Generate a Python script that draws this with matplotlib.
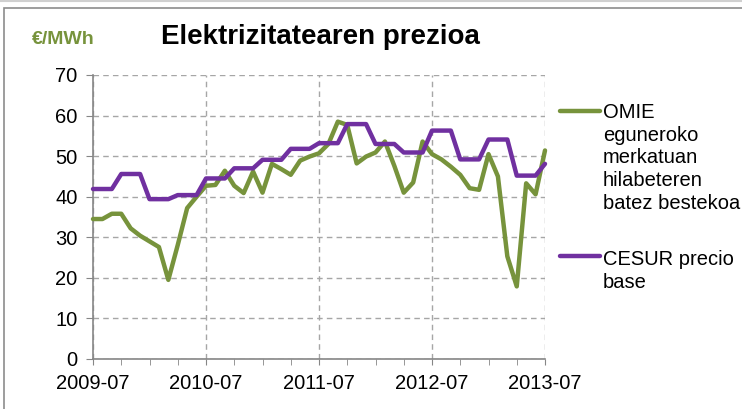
import numpy as np
import matplotlib.pyplot as plt
from matplotlib.lines import Line2D
from matplotlib.patches import Rectangle

plt.rcParams['font.family'] = ['Liberation Sans', 'DejaVu Sans']

# monthly values, 2009-07 .. 2013-07
omie = [34.5, 34.5, 35.8, 35.8, 32.2, 30.4,
        29.0, 27.6, 19.5, 28.1, 37.2, 40.0, 42.7, 42.9, 46.4, 42.7, 40.9, 46.2,
        41.0, 48.1, 46.8, 45.4, 48.9, 49.9, 50.7, 53.0, 58.5, 57.7, 48.2, 49.9,
        50.9, 53.6, 47.6, 41.0, 43.5, 53.6, 50.5, 49.2, 47.4, 45.4, 42.1, 41.7,
        50.5, 45.0, 25.3, 17.9, 43.3, 40.6, 51.4]
cesur = [41.9, 41.9, 41.9, 45.6, 45.6, 45.6,
         39.4, 39.4, 39.4, 40.4, 40.4, 40.4, 44.5, 44.5, 44.5, 47.0, 47.0, 47.0,
         49.1, 49.1, 49.1, 51.8, 51.8, 51.8, 53.2, 53.2, 53.2, 57.9, 57.9, 57.9,
         53.0, 53.0, 53.0, 50.9, 50.9, 50.9, 56.3, 56.3, 56.3, 49.2, 49.2, 49.2,
         54.1, 54.1, 54.1, 45.2, 45.2, 45.2, 48.1]
year_labels = ['2009-07', '2010-07', '2011-07', '2012-07', '2013-07']
omie_label = ['OMIE', 'eguneroko', 'merkatuan', 'hilabeteren', 'batez bestekoa']
cesur_label = ['CESUR precio', 'base']

green = '#77933C'
purple = '#7030A0'
gray = '#868686'

W, H = 742, 409
fig = plt.figure(figsize=(W / 100, H / 100), dpi=100)
ax = fig.add_axes([93 / W, 1 - 359 / H, 452 / W, 284 / H])

x = np.arange(len(omie))
ax.plot(x, omie, color=green, lw=3.2, clip_on=False, zorder=3,
        solid_joinstyle='round', solid_capstyle='round')
ax.plot(x, cesur, color=purple, lw=3.2, clip_on=False, zorder=4,
        solid_joinstyle='round', solid_capstyle='round')

ax.set_xlim(0, len(omie) - 1)
ax.set_ylim(0, 70)
ax.set_xticks(np.arange(0, len(omie), 12))
ax.set_xticklabels(year_labels)
ax.set_xticks(np.arange(0, len(omie), 3), minor=True)
ax.set_yticks(np.arange(0, 71, 10))

ax.grid(True, color='#A6A6A6', ls=(0, (4, 3)), lw=1)
for s in ['top', 'right']:
    ax.spines[s].set_visible(False)
for s in ['left', 'bottom']:
    ax.spines[s].set_color(gray)
    ax.spines[s].set_linewidth(1.2)
ax.tick_params(axis='x', which='both', length=4, color=gray, labelsize=14.5, pad=7)
ax.tick_params(axis='y', length=5, color=gray, labelsize=14.5, pad=6)

# title and unit
fig.text(32 / W, 1 - 44.3 / H, '€/MWh', color=green, fontsize=14, fontweight='bold',
         va='baseline')
fig.text(161 / W, 1 - 44.3 / H, 'Elektrizitatearen prezioa', fontsize=20,
         fontweight='bold', va='baseline')

# legend drawn by hand
def legend_entry(y_line, y_base, color, lines):
    fig.add_artist(Line2D([560 / W, 600 / W], [1 - y_line / H] * 2,
                          color=color, lw=3.2, solid_capstyle='round',
                          transform=fig.transFigure))
    for i, t in enumerate(lines):
        fig.text(603 / W, 1 - (y_base + i * 22.9) / H, t, fontsize=14.5, va='baseline')

legend_entry(111, 117.7, green, omie_label)
legend_entry(256, 265, purple, cesur_label)

# outer frame
fig.add_artist(Rectangle((3.5 / W, -0.2), 2, 1.2 - 8 / H, transform=fig.transFigure,
                         fill=False, ec='#8C8C8C', lw=1.2))
fig.add_artist(Line2D([0, 1], [1 - 0.8 / H] * 2, color='#D0D0D0', lw=1.5,
                      transform=fig.transFigure))

fig.savefig('out.png', dpi=100)
